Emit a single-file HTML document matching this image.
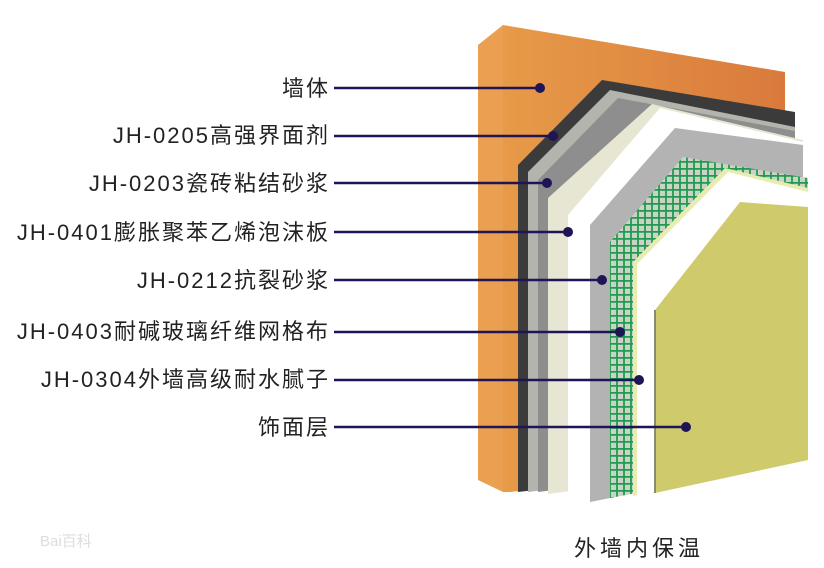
<!DOCTYPE html>
<html><head><meta charset="utf-8"><style>
body{margin:0;background:#fff;}
svg{display:block;}
text{font-family:"Liberation Sans","Noto Sans CJK SC",sans-serif;}
</style></head><body>
<svg width="824" height="568" viewBox="0 0 824 568" xmlns="http://www.w3.org/2000/svg">
<defs>
<pattern id="mesh" width="7" height="7" patternUnits="userSpaceOnUse">
<rect width="7" height="7" fill="#c9d3c6"/>
<path d="M0 0.8H7M1 0V7" stroke="#1f9a4e" stroke-width="1.8"/>
</pattern>
<linearGradient id="og" x1="0" x2="1"><stop offset="0" stop-color="#e79a48"/><stop offset="1" stop-color="#d97a3c"/></linearGradient>
</defs>
<polygon points="478,45 503,25 503,492 478,480" fill="#eaa050"/>
<polygon points="503,25 785,72 785,460 510,492 503,492" fill="url(#og)"/>
<polygon points="518,492 518,165 602,80 795,112 795,460" fill="#3b3b3b"/>
<polygon points="528,492 528,172 610,90 795,127 795,460" fill="#b4b4ae"/>
<polygon points="538,492 538,180 618,98 795,131 795,460" fill="#8e8e8e"/>
<polygon points="548,494 548,198 652,104 803,140 803,460" fill="#e6e6d2"/>
<polygon points="568,498 568,215 660,108 803,142 803,460" fill="#ffffff"/>
<polygon points="590,502 590,225 675,128 803,145 803,460" fill="#b3b3b3"/>
<polygon points="610,498 610,242 683,157 808,178 808,460" fill="url(#mesh)"/>
<polygon points="633,496 633,262 725,168 808,188 808,460" fill="#e8ecb0"/>
<polygon points="637,496 637,264 728,172 808,192 808,460" fill="#ffffff"/>
<polygon points="655,493 655,310 740,202 808,207 808,460" fill="#cfcb6c"/>
<line x1="655" y1="310" x2="655" y2="493" stroke="#8a8a70" stroke-width="2"/>
<g stroke="#1e1456" stroke-width="2.5">
<line x1="334" y1="88" x2="540" y2="88"/>
<line x1="334" y1="136" x2="553" y2="136"/>
<line x1="334" y1="183" x2="547" y2="183"/>
<line x1="334" y1="232" x2="568" y2="232"/>
<line x1="334" y1="280" x2="602" y2="280"/>
<line x1="334" y1="332" x2="620" y2="332"/>
<line x1="334" y1="380" x2="639" y2="380"/>
<line x1="334" y1="427" x2="686" y2="427"/>
</g>
<g fill="#1e1456">
<circle cx="540" cy="88" r="5"/><circle cx="553" cy="136" r="5"/><circle cx="547" cy="183" r="5"/>
<circle cx="568" cy="232" r="5"/><circle cx="602" cy="280" r="5"/><circle cx="620" cy="332" r="5"/>
<circle cx="639" cy="380" r="5"/><circle cx="686" cy="427" r="5"/>
</g>
<g font-size="22" fill="#222" text-anchor="end" letter-spacing="2">
<text x="330" y="96">墙体</text>
<text x="330" y="143">JH-0205高强界面剂</text>
<text x="330" y="191">JH-0203瓷砖粘结砂浆</text>
<text x="330" y="240">JH-0401膨胀聚苯乙烯泡沫板</text>
<text x="330" y="288">JH-0212抗裂砂浆</text>
<text x="330" y="339">JH-0403耐碱玻璃纤维网格布</text>
<text x="330" y="387">JH-0304外墙高级耐水腻子</text>
<text x="330" y="435">饰面层</text>
</g>
<text x="574" y="556" font-size="22" fill="#222" letter-spacing="4">外墙内保温</text>
<text x="40" y="546" font-size="15" fill="#ddd">Bai百科</text>
</svg>
</body></html>
